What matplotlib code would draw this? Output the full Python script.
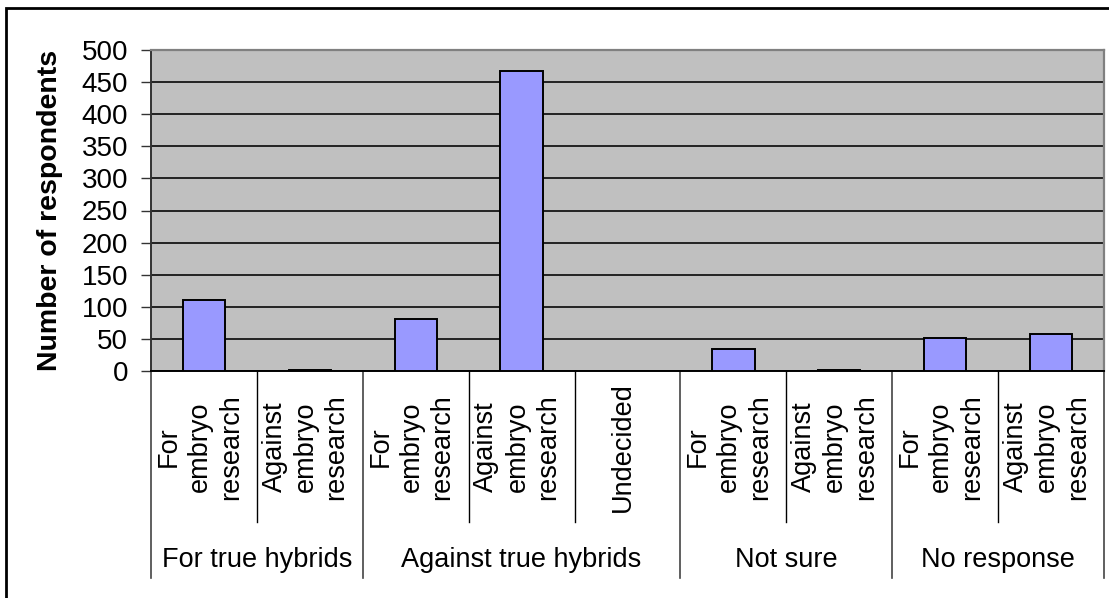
import matplotlib
matplotlib.use("Agg")
import matplotlib.pyplot as plt
from matplotlib.patches import Rectangle

plt.rcParams['font.family'] = ['Liberation Sans', 'DejaVu Sans']

# data
groups = ["For true hybrids", "Against true hybrids", "Not sure", "No response"]
group_sizes = [2, 3, 2, 2]
sub_labels = [
    "For\nembryo\nresearch", "Against\nembryo\nresearch",
    "For\nembryo\nresearch", "Against\nembryo\nresearch", "Undecided",
    "For\nembryo\nresearch", "Against\nembryo\nresearch",
    "For\nembryo\nresearch", "Against\nembryo\nresearch",
]
respondents = [110, 2, 81, 468, 0, 35, 2, 52, 58]
y_ticks = [0, 50, 100, 150, 200, 250, 300, 350, 400, 450, 500]

W, H = 1109, 598
fig = plt.figure(figsize=(W / 100, H / 100), dpi=100)
ax = fig.add_axes([151 / W, 1 - 371 / H, 953 / W, 321 / H])
ax.set_facecolor("#C0C0C0")

x = list(range(len(respondents)))
ax.bar(x, respondents, width=0.4, color="#9999FF", edgecolor="black",
       linewidth=1.4, zorder=3)

ax.set_xlim(-0.5, len(respondents) - 0.5)
ax.set_ylim(0, 500)
ax.set_yticks(y_ticks)
ax.tick_params(axis="y", labelsize=20, length=7.5, width=1.0, pad=9,
               color="#333333")
ax.set_xticks([])
ax.yaxis.grid(True, color="#222222", linewidth=1.4, zorder=1)
ax.set_axisbelow(True)

ax.set_ylabel("Number of respondents", fontsize=20.5, fontweight="bold")
ax.yaxis.set_label_coords(-0.092, 0.5)

for side in ("top", "right"):
    ax.spines[side].set_color("#808080")
    ax.spines[side].set_linewidth(1.6)
ax.spines["left"].set_color("#333333")
ax.spines["left"].set_linewidth(1.4)
ax.spines["bottom"].set_color("black")
ax.spines["bottom"].set_linewidth(1.4)

# category labels and separators under the axis
tr = ax.get_xaxis_transform()
for i, lab in enumerate(sub_labels):
    ax.text(i - 0.04, -0.237, lab, transform=tr, rotation=90, ha="center",
            va="center", multialignment="center", fontsize=19.5,
            linespacing=1.25)

start = 0
bounds = [-0.5]
for g, n in zip(groups, group_sizes):
    mid = start + (n - 1) / 2
    ax.text(mid, -0.589, g, transform=tr, ha="center", va="center",
            fontsize=19.5)
    for k in range(1, n):
        ax.plot([start + k - 0.5] * 2, [0, -0.47], transform=tr,
                color="black", linewidth=1.0, clip_on=False)
    start += n
    bounds.append(start - 0.5)
for b in bounds:
    ax.plot([b, b], [0, -0.645], transform=tr, color="#444444",
            linewidth=1.2, clip_on=False)

# outer chart frame
fig.patches.append(Rectangle((6 / W, -0.02), 1.05, 1 - 8 / H + 0.02,
                             transform=fig.transFigure, fill=False,
                             edgecolor="black", linewidth=2.0))

fig.savefig("out.png", dpi=100)
